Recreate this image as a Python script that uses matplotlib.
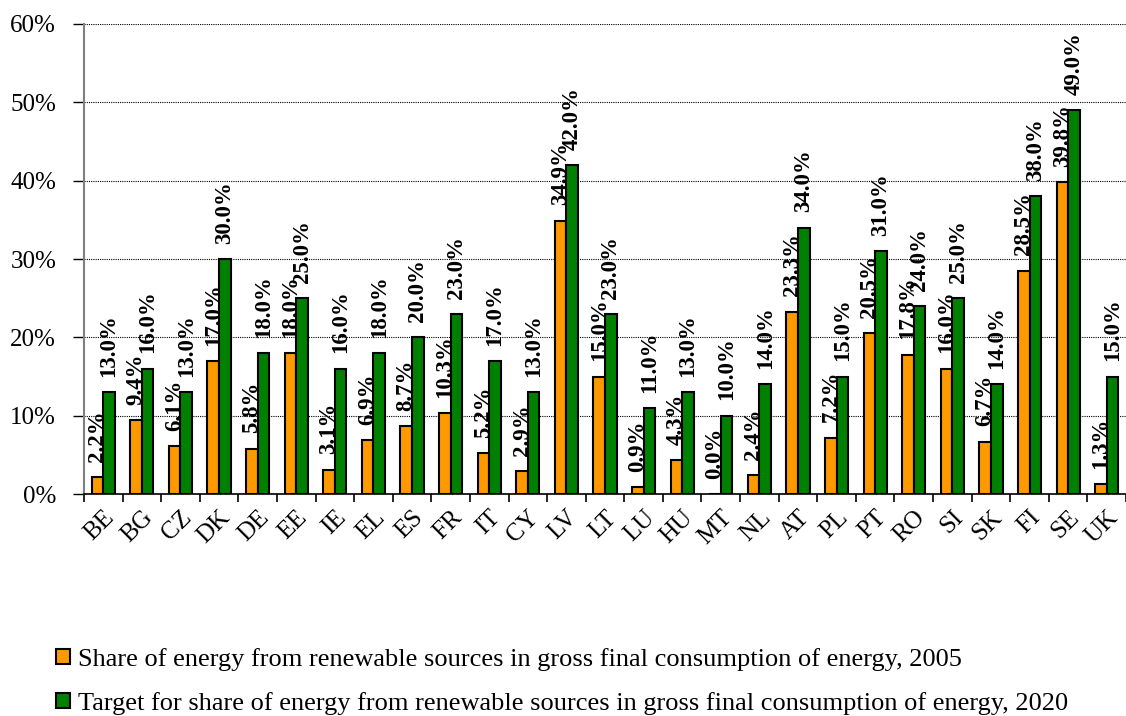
import matplotlib
matplotlib.use("Agg")
import matplotlib.pyplot as plt
import numpy as np
from matplotlib.ticker import FuncFormatter, MultipleLocator

countries = ["BE", "BG", "CZ", "DK", "DE", "EE", "IE", "EL", "ES", "FR", "IT", "CY", "LV", "LT",
             "LU", "HU", "MT", "NL", "AT", "PL", "PT", "RO", "SI", "SK", "FI", "SE", "UK"]
share_2005 = [2.2, 9.4, 6.1, 17.0, 5.8, 18.0, 3.1, 6.9, 8.7, 10.3, 5.2, 2.9, 34.9, 15.0,
              0.9, 4.3, 0.0, 2.4, 23.3, 7.2, 20.5, 17.8, 16.0, 6.7, 28.5, 39.8, 1.3]
target_2020 = [13.0, 16.0, 13.0, 30.0, 18.0, 25.0, 16.0, 18.0, 20.0, 23.0, 17.0, 13.0, 42.0, 23.0,
               11.0, 13.0, 10.0, 14.0, 34.0, 15.0, 31.0, 24.0, 25.0, 14.0, 38.0, 49.0, 15.0]
labels = ["Share of energy from renewable sources in gross final consumption of energy, 2005",
          "Target for share of energy from renewable sources in gross final consumption of energy, 2020"]

plt.rcParams['font.family'] = ['Liberation Serif', 'DejaVu Serif']

fig = plt.figure(figsize=(11.26, 7.16), dpi=100)
ax = fig.add_axes([0.0746, 0.31, 0.9254, 0.6565])

x = np.arange(len(countries))
w = 0.3
b1 = ax.bar(x - w/2, share_2005, w, color='#FF9900', edgecolor='black', linewidth=1.5, label=labels[0], zorder=3)
b2 = ax.bar(x + w/2, target_2020, w, color='#008000', edgecolor='black', linewidth=1.5, label=labels[1], zorder=3)

for xi, v in zip(x - w/2, share_2005):
    ax.annotate(f"{v:.1f}%", (xi, v), xytext=(0, 11), textcoords='offset points',
                rotation=90, ha='center', va='bottom', fontsize=16.5, fontweight='bold', zorder=4)
for xi, v in zip(x + w/2, target_2020):
    ax.annotate(f"{v:.1f}%", (xi, v), xytext=(0, 11), textcoords='offset points',
                rotation=90, ha='center', va='bottom', fontsize=16.5, fontweight='bold', zorder=4)

ax.set_xlim(-0.5, len(countries) - 0.5)
ax.set_ylim(0, 60)
ax.yaxis.set_major_locator(MultipleLocator(10))
ax.yaxis.set_major_formatter(FuncFormatter(lambda v, p: f"{v:.0f}%"))
ax.grid(axis='y', color='black', linestyle=(0, (1, 1)), linewidth=0.8, zorder=0)

ax.set_xticks(x)
ax.set_xticklabels(countries, rotation=45, ha='right', va='top', rotation_mode='anchor', fontsize=18)
ax.set_xticks(np.arange(len(countries) + 1) - 0.5, minor=True)
ax.tick_params(axis='x', which='major', length=0, pad=9)
ax.tick_params(axis='x', which='minor', length=6, width=1.2, color='black', direction='out')
ax.tick_params(axis='y', length=8, width=1, color='black', pad=12, labelsize=18)

for s in ['top', 'right']:
    ax.spines[s].set_visible(False)
ax.spines['left'].set_color('#808080')
ax.spines['left'].set_linewidth(1.5)
ax.spines['bottom'].set_color('black')
ax.spines['bottom'].set_linewidth(1.2)

fig.legend(handles=[b1, b2], labels=labels, loc='upper left', bbox_to_anchor=(0.05, 0.095),
           frameon=False, fontsize=19, handlelength=0.52, handleheight=0.52, handletextpad=0.3,
           labelspacing=0.8, borderaxespad=0, borderpad=0)

fig.savefig("out.png", dpi=100)
